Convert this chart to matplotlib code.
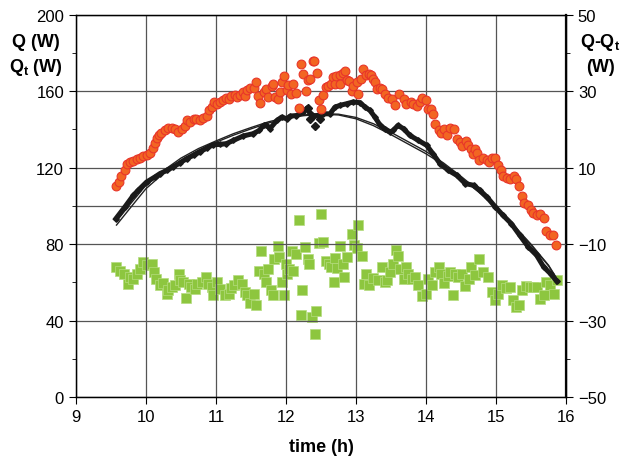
import matplotlib
matplotlib.use("Agg")
import matplotlib.pyplot as plt
from matplotlib.ticker import MultipleLocator

plt.rcParams['font.family'] = ['Liberation Sans', 'DejaVu Sans']
plt.rcParams['mathtext.fontset'] = 'custom'
plt.rcParams['mathtext.rm'] = 'Liberation Sans'
plt.rcParams['mathtext.bf'] = 'Liberation Sans:bold'

# measured heat flow Q (red circles)
q_time = [9.58, 9.61, 9.65, 9.70, 9.73, 9.78, 9.82, 9.87, 9.91, 9.96, 10.01, 10.06,
          10.10, 10.13, 10.16, 10.19, 10.22, 10.27, 10.32, 10.37, 10.41, 10.46, 10.51,
          10.56, 10.59, 10.63, 10.68, 10.72, 10.77, 10.82, 10.87, 10.90, 10.94, 10.97,
          11.01, 11.06, 11.10, 11.14, 11.19, 11.22, 11.27, 11.30, 11.34, 11.38, 11.41,
          11.44, 11.49, 11.54, 11.57, 11.60, 11.63, 11.69, 11.72, 11.75, 11.80, 11.82,
          11.84, 11.88, 11.91, 11.94, 11.97, 12.01, 12.03, 12.07, 12.10, 12.14, 12.18,
          12.21, 12.24, 12.28, 12.32, 12.35, 12.38, 12.40, 12.44, 12.47, 12.50, 12.53,
          12.57, 12.60, 12.64, 12.67, 12.70, 12.72, 12.77, 12.77, 12.81, 12.84, 12.87,
          12.90, 12.94, 12.96, 13.01, 13.03, 13.07, 13.10, 13.14, 13.18, 13.21, 13.24,
          13.27, 13.30, 13.34, 13.37, 13.41, 13.46, 13.51, 13.56, 13.62, 13.68, 13.72,
          13.78, 13.82, 13.87, 13.91, 13.95, 14.00, 14.03, 14.07, 14.10, 14.13, 14.18,
          14.22, 14.26, 14.30, 14.35, 14.40, 14.44, 14.49, 14.52, 14.57, 14.60, 14.65,
          14.67, 14.70, 14.73, 14.76, 14.82, 14.87, 14.90, 14.94, 14.99, 15.03, 15.07,
          15.10, 15.15, 15.20, 15.25, 15.29, 15.33, 15.37, 15.40, 15.45, 15.50, 15.53,
          15.58, 15.63, 15.68, 15.72, 15.77, 15.82, 15.86]
q_val = [110.4, 112.5, 115.7, 119.0, 121.7, 123.0, 123.5, 124.4, 125.2, 126.1, 126.8, 127.9,
         130.3, 133.1, 135.7, 137.3, 138.2, 139.5, 140.8, 140.8, 140.1, 138.7, 140.4,
         141.8, 144.7, 143.9, 145.3, 145.6, 145.1, 146.0, 147.0, 150.0, 151.7, 154.4,
         153.5, 154.4, 155.2, 156.5, 156.1, 157.5, 158.2, 157.0, 157.8, 159.6, 157.5,
         160.4, 161.7, 161.7, 165.0, 157.5, 154.0, 159.6, 161.3, 156.8, 163.0, 163.9,
         157.0, 155.7, 159.6, 164.8, 168.0, 160.4, 163.4, 158.7, 163.6, 159.2, 151.2,
         174.4, 169.2, 159.9, 165.7, 166.5, 175.8, 175.8, 169.5, 155.6, 150.9, 157.8,
         162.2, 163.0, 163.9, 167.4, 163.9, 168.0, 168.3, 163.9, 169.5, 170.6, 165.7,
         165.1, 159.9, 163.0, 164.8, 158.7, 166.2, 171.8, 168.6, 169.2, 168.6, 166.5,
         164.8, 161.3, 161.7, 161.3, 158.7, 156.6, 155.7, 152.6, 158.7, 156.1, 153.1,
         154.4, 153.5, 152.3, 154.4, 156.5, 155.2, 150.5, 150.5, 148.2, 143.0, 139.5,
         138.3, 140.0, 137.3, 140.9, 140.0, 134.8, 133.5, 131.4, 134.0, 131.7, 129.6,
         127.0, 130.0, 127.9, 123.8, 125.2, 123.8, 123.0, 125.1, 125.1, 121.2, 118.6,
         115.7, 114.6, 114.3, 115.7, 113.9, 110.2, 105.2, 101.7, 100.3, 97.7, 96.5,
         95.4, 96.0, 93.7, 86.7, 85.0, 84.6, 79.4]

# Qt (black diamonds)
qt_time = [9.57, 9.70, 9.82, 9.89, 10.01, 10.13, 10.20, 10.30, 10.39, 10.49, 10.58, 10.68,
           10.77, 10.87, 10.96, 11.06, 11.15, 11.25, 11.39, 11.53, 11.62, 11.68, 11.72,
           11.77, 11.87, 11.94, 12.01, 12.06, 12.15, 12.25, 12.30, 12.34, 12.40, 12.47,
           12.53, 12.63, 12.70, 12.77, 12.87, 12.96, 13.06, 13.13, 13.20, 13.27, 13.34,
           13.41, 13.49, 13.53, 13.60, 13.68, 13.77, 13.89, 14.01, 14.10, 14.20, 14.32,
           14.44, 14.56, 14.68, 14.77, 14.87, 14.99, 15.10, 15.22, 15.34, 15.46, 15.58,
           15.68, 15.78, 15.87]
qt_val = [93.3, 99.5, 105.5, 108.2, 112.5, 115.2, 116.9, 118.6, 120.4, 122.6, 124.7, 126.5,
          128.2, 130.3, 132.0, 132.2, 132.6, 134.3, 136.6, 137.8, 139.5, 142.1, 142.5,
          140.4, 144.7, 146.5, 145.6, 147.0, 147.3, 149.1, 151.2, 148.8, 147.0, 147.5,
          148.2, 148.2, 151.7, 152.6, 153.5, 154.4, 154.0, 151.7, 150.0, 146.5, 142.5,
          140.4, 138.7, 139.5, 142.1, 140.4, 136.9, 134.3, 131.7, 127.3, 122.1, 118.6,
          116.0, 111.7, 110.8, 108.2, 104.7, 99.5, 95.1, 90.7, 84.6, 78.6, 74.2,
          68.1, 64.5, 60.5]
qt_out_time = [12.32, 12.35, 12.41, 12.48]
qt_out_val = [151.4, 145.6, 141.8, 145.6]

# smooth model curves (thin black lines)
fit_time = [9.58, 9.8, 10.0, 10.25, 10.5, 10.75, 11.0, 11.25, 11.5, 11.75, 12.0, 12.25,
            12.5, 12.75, 13.0, 13.25, 13.5, 13.75, 14.0, 14.25, 14.5, 14.75, 15.0,
            15.25, 15.5, 15.75, 15.87]
fit_a = [92.0, 102.0, 110.8, 118.5, 125.0, 130.0, 134.0, 137.8, 141.0, 144.0, 146.2, 147.6,
         148.3, 148.0, 146.3, 143.0, 138.5, 133.5, 128.5, 122.5, 115.5, 108.0, 99.5,
         90.0, 80.0, 69.0, 62.0]
fit_b = [90.0, 100.0, 109.0, 117.0, 123.8, 129.2, 133.3, 137.0, 140.3, 143.4, 145.7, 147.2,
         148.0, 147.6, 145.6, 142.0, 137.3, 132.3, 127.3, 121.5, 114.7, 107.3, 99.0,
         89.6, 79.6, 68.7, 61.5]

# Q - Qt (green squares, right axis)
d_time = [9.58, 9.63, 9.69, 9.75, 9.77, 9.82, 9.87, 9.91, 9.96, 10.01, 10.08, 10.11,
          10.15, 10.20, 10.25, 10.30, 10.32, 10.37, 10.41, 10.47, 10.49, 10.53, 10.57,
          10.61, 10.65, 10.70, 10.73, 10.80, 10.86, 10.89, 10.94, 10.96, 11.01, 11.06,
          11.13, 11.18, 11.21, 11.26, 11.32, 11.37, 11.41, 11.45, 11.49, 11.54, 11.57,
          11.61, 11.64, 11.68, 11.71, 11.74, 11.79, 11.81, 11.83, 11.88, 11.90, 11.94,
          11.97, 12.00, 12.02, 12.05, 12.08, 12.10, 12.14, 12.18, 12.21, 12.23, 12.27,
          12.31, 12.33, 12.37, 12.41, 12.43, 12.47, 12.50, 12.53, 12.57, 12.61, 12.64,
          12.68, 12.70, 12.73, 12.77, 12.81, 12.83, 12.87, 12.94, 12.97, 13.01, 13.03,
          13.08, 13.11, 13.15, 13.19, 13.25, 13.31, 13.37, 13.41, 13.45, 13.49, 13.53,
          13.57, 13.60, 13.63, 13.68, 13.71, 13.75, 13.80, 13.84, 13.89, 13.95, 14.00,
          14.03, 14.08, 14.13, 14.18, 14.22, 14.26, 14.31, 14.34, 14.38, 14.41, 14.46,
          14.51, 14.56, 14.61, 14.65, 14.70, 14.76, 14.82, 14.89, 14.94, 14.99, 15.03,
          15.08, 15.14, 15.20, 15.24, 15.29, 15.33, 15.37, 15.43, 15.49, 15.53, 15.59,
          15.63, 15.69, 15.72, 15.77, 15.83, 15.87]
d_val = [-15.9, -16.9, -17.8, -20.4, -18.6, -19.1, -17.8, -16.5, -14.7, -15.4, -15.3, -17.3,
         -19.1, -20.6, -20.1, -23.0, -22.1, -21.3, -20.8, -17.8, -19.5, -19.9, -24.1,
         -20.4, -21.3, -21.7, -20.4, -19.9, -18.6, -20.4, -21.3, -23.4, -19.9, -21.7,
         -23.4, -23.0, -21.5, -20.8, -19.5, -20.4, -22.4, -23.4, -25.3, -23.0, -26.0,
         -16.9, -11.8, -17.8, -19.9, -16.5, -22.1, -23.3, -13.9, -10.4, -13.4, -19.9,
         -23.2, -15.2, -17.8, -16.5, -11.8, -16.9, -12.5, -3.7, -28.5, -22.0, -10.8,
         -13.9, -15.2, -29.1, -33.4, -27.5, -9.8, -2.1, -9.3, -14.3, -15.2, -16.0,
         -19.9, -13.7, -16.3, -10.5, -15.2, -18.5, -13.4, -7.4, -10.2, -11.1, -4.9,
         -13.2, -20.4, -17.8, -20.6, -18.9, -19.5, -16.0, -19.9, -19.5, -17.3, -15.2,
         -11.5, -13.0, -16.5, -19.1, -16.0, -17.8, -19.1, -18.6, -20.6, -23.6, -23.0,
         -19.1, -20.8, -17.2, -15.9, -17.8, -20.1, -18.2, -17.3, -23.3, -17.8, -18.6,
         -17.8, -21.0, -19.1, -16.0, -18.0, -13.8, -17.2, -18.6, -22.6, -24.7, -23.0,
         -20.8, -21.5, -21.3, -24.6, -26.5, -25.9, -21.9, -21.0, -21.3, -21.1, -21.3,
         -24.3, -23.4, -19.9, -20.6, -23.0, -19.5]

fig = plt.figure(figsize=(6.22, 4.64), dpi=100)
ax = fig.add_axes([0.122, 0.142, 0.788, 0.824])
ax2 = ax.twinx()

ax.set_xlim(9, 16)
ax.set_ylim(0, 200)
ax2.set_ylim(-50, 50)

ax.xaxis.set_major_locator(MultipleLocator(1))
ax.yaxis.set_major_locator(MultipleLocator(40))
ax.yaxis.set_minor_locator(MultipleLocator(20))
ax2.yaxis.set_minor_locator(MultipleLocator(10))
ax2.set_yticks([-50, -30, -10, 10, 30, 50])

ax.grid(True, which='major', color='#555555', lw=0.9)
ax.axhline(100, color='#555555', lw=0.9, zorder=0.5)
ax.set_axisbelow(True)

for a in (ax, ax2):
    a.tick_params(which='both', direction='out', labelsize=12)
    a.tick_params(which='major', length=5)
    a.tick_params(which='minor', length=3)
for sp in ax.spines.values():
    sp.set_linewidth(1.0)
ax2.spines['right'].set_linewidth(1.6)

ax2.scatter(d_time, d_val, marker='s', s=46, color='#8dc63f', edgecolors='#b5dc7f',
            linewidths=0.5, zorder=2)
ax.plot(fit_time, fit_a, color='#222222', lw=1.0, zorder=3)
ax.plot(fit_time, fit_b, color='#222222', lw=1.0, zorder=3)
ax.plot(qt_time, qt_val, color='#1a1a1a', lw=3.6, marker='D', ms=2.8, zorder=4)
ax.plot(qt_out_time, qt_out_val, ls='none', color='#1a1a1a', marker='D', ms=4.5, zorder=4)
ax.scatter(q_time, q_val, s=40, color='#f26522', edgecolors='#e8352a', linewidths=0.8,
           zorder=5)

ax.set_zorder(ax2.get_zorder() + 1)
ax.patch.set_visible(False)

ax.set_xlabel('time (h)', fontsize=13, fontweight='bold', labelpad=10)
fig.text(0.058, 0.908, 'Q (W)', fontsize=13, fontweight='bold', ha='center', va='center')
fig.text(0.058, 0.855, 'Q$_\\mathbf{t}$ (W)', fontsize=13, fontweight='bold',
         ha='center', va='center')
fig.text(0.965, 0.908, 'Q-Q$_\\mathbf{t}$', fontsize=13, fontweight='bold',
         ha='center', va='center')
fig.text(0.965, 0.855, '(W)', fontsize=13, fontweight='bold', ha='center', va='center')

fig.savefig('out.png', dpi=100)
